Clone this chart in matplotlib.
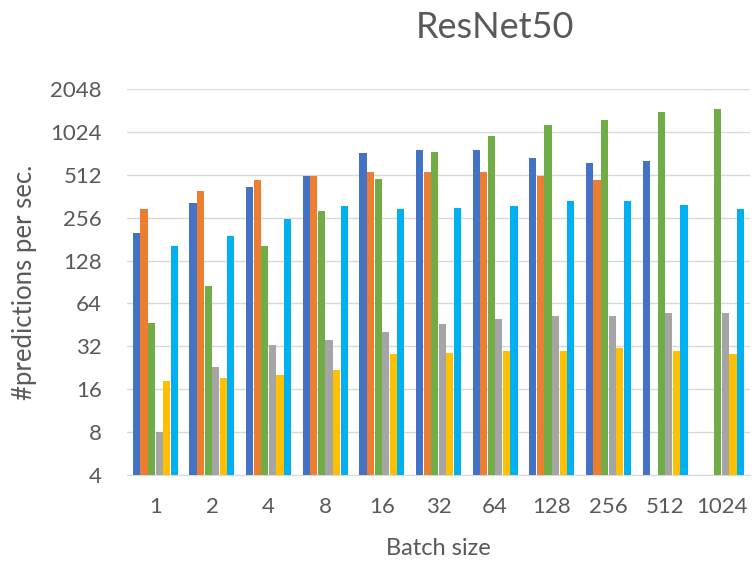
import numpy as np
from matplotlib import pyplot as plt

batch_sizes = ['1', '2', '4', '8', '16', '32', '64', '128', '256', '512', '1024']

# predictions per second for each configuration, nan where there is no run
s_blue = [199, 326, 422, 504, 726, 762, 762, 670, 621, 638, np.nan]
s_orange = [294, 391, 470, 504, 532, 532, 532, 506, 470, np.nan, np.nan]
s_green = [47, 85.5, 162, 287, 480, 741, 960, 1152, 1236, 1407, 1484]
s_gray = [8.0, 22.9, 32.9, 35.6, 40.3, 45.9, 49.7, 52.2, 52.2, 55, 55]
s_yellow = [18.2, 19.2, 20, 21.7, 28.1, 28.9, 29.7, 29.7, 31.3, 29.7, 28.1]
s_lblue = [162, 190, 252, 309, 294, 301, 309, 333, 333, 316, 293]

series = [s_blue, s_orange, s_green, s_gray, s_yellow, s_lblue]
colors = ['#4472C4', '#ED7D31', '#70AD47', '#A5A5A5', '#FFC000', '#00B0F0']
yticks = [4, 8, 16, 32, 64, 128, 256, 512, 1024, 2048]

plt.rcParams['font.family'] = ['Lato', 'DejaVu Sans']
txt = '#595959'

fig = plt.figure(figsize=(7.54, 5.62), dpi=100)
ax = fig.add_axes([127/754, 1 - 475/562, (750-127)/754, (475-89)/562])

x = np.arange(len(batch_sizes))
w = 0.8 / len(series)
for i, (vals, c) in enumerate(zip(series, colors)):
    ax.bar(x - 0.4 + w*(i + 0.5), vals, width=w*0.95, color=c, zorder=3)

ax.set_yscale('log', base=2)
ax.set_ylim(4, 2048)
ax.set_yticks(yticks)
ax.set_yticklabels([str(t) for t in yticks])
ax.minorticks_off()
ax.set_xlim(-0.5, len(batch_sizes) - 0.5)
ax.set_xticks(x)
ax.set_xticklabels(batch_sizes)

ax.grid(axis='y', color='#D9D9D9', lw=1, zorder=0)
for s in ['top', 'right', 'left']:
    ax.spines[s].set_visible(False)
ax.spines['bottom'].set_color('#D9D9D9')
ax.tick_params(axis='both', length=0, labelsize=16, colors=txt)
ax.tick_params(axis='x', pad=16)
ax.tick_params(axis='y', pad=18)

ax.set_xlabel('Batch size', fontsize=17, color=txt, va='center')
ax.xaxis.set_label_coords(0.5, -0.19)
ax.set_ylabel('#predictions per sec.', fontsize=18.5, color=txt, va='center')
ax.yaxis.set_label_coords(-0.164, 0.5)
fig.text(495/754, 1 - 28/562, 'ResNet50', ha='center', va='center', fontsize=26, color=txt)

plt.savefig('out.png', dpi=100)
